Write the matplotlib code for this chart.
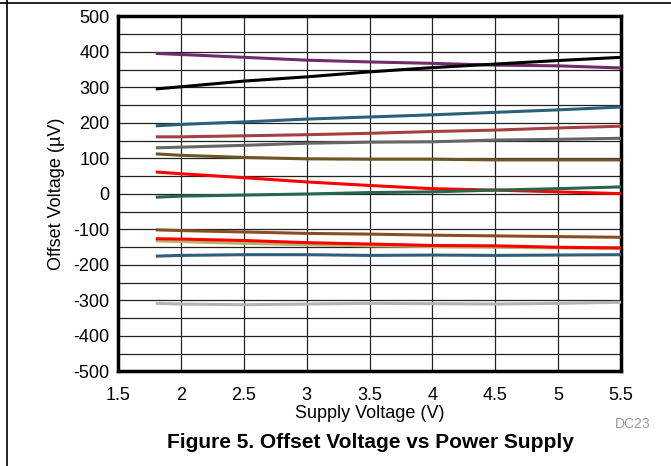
import matplotlib
matplotlib.use("Agg")
import matplotlib.pyplot as plt
from matplotlib.lines import Line2D

plt.rcParams['font.family'] = ['Liberation Sans', 'DejaVu Sans']
plt.rcParams['axes.unicode_minus'] = False

supply_v = [1.8, 2.0, 2.5, 3.0, 3.5, 4.0, 4.5, 5.0, 5.5]

purple = [396, 393, 385, 377, 372, 368, 363, 361, 355]
black = [296, 302, 318, 330, 344, 356, 366, 376, 385]
teal_hi = [192, 196, 203, 211, 217, 223, 230, 237, 245]
brick = [161, 161, 164, 167, 171, 176, 180, 186, 191]
gray = [130, 132, 137, 143, 146, 147, 152, 154, 157]
olive_brown = [113, 109, 103, 99, 98, 98, 96, 96, 96]
red_hi = [62, 57, 46, 34, 24, 15, 11, 6, 1]
green = [-9, -6, -3, 0, 4, 6, 11, 15, 20]
brown_lo = [-101, -103, -107, -111, -113, -116, -118, -120, -122]
khaki = [-132, -134, -139, -143, -146, -148, -150, -152, -153]
red_lo = [-126, -127, -131, -137, -141, -145, -146, -150, -152]
teal_lo = [-175, -173, -171, -171, -173, -172, -173, -172, -171]
light_gray = [-308, -310, -312, -310, -308, -309, -310, -308, -305]

series = [
    (purple, '#6E2C6C'),
    (black, '#000000'),
    (teal_hi, '#2B5F7A'),
    (brick, '#A53F40'),
    (gray, '#666666'),
    (olive_brown, '#6E5426'),
    (red_hi, '#FF0000'),
    (green, '#26664A'),
    (brown_lo, '#8B4C24'),
    (khaki, '#B8B26A'),
    (red_lo, '#FF0000'),
    (teal_lo, '#2F5F7C'),
    (light_gray, '#B3B3B3'),
]

x_ticks = [1.5, 2, 2.5, 3, 3.5, 4, 4.5, 5, 5.5]
x_tick_labels = ['1.5', '2', '2.5', '3', '3.5', '4', '4.5', '5', '5.5']
y_ticks = list(range(-500, 501, 100))

fig = plt.figure(figsize=(6.71, 4.66), dpi=100)
ax = fig.add_axes([0.1759, 0.2028, 0.7496, 0.7618])

for vals, col in series:
    ax.plot(supply_v, vals, color=col, lw=2.2, solid_capstyle='butt', zorder=3)

ax.set_xlim(1.5, 5.5)
ax.set_ylim(-500, 500)
ax.set_xticks(x_ticks)
ax.set_xticklabels(x_tick_labels)
ax.set_yticks(y_ticks)
ax.set_yticks(list(range(-450, 500, 100)), minor=True)
ax.tick_params(axis='both', which='both', length=0, labelsize=13)
ax.tick_params(axis='x', pad=11)
ax.tick_params(axis='y', pad=6)
ax.grid(True, which='major', color='#222222', lw=0.9, zorder=1)
ax.grid(True, which='minor', axis='y', color='#222222', lw=0.9, zorder=1)
for s in ax.spines.values():
    s.set_linewidth(2.5)
    s.set_color('black')

ax.set_xlabel('Supply Voltage (V)', fontsize=13, labelpad=1)
ax.set_ylabel('Offset Voltage (µV)', fontsize=13, labelpad=6)

fig.text(650 / 671, 1 - 424 / 466, 'DC23', fontsize=10, color='#999999', ha='right', va='center')
fig.text(370 / 671, 1 - 443 / 466, 'Figure 5. Offset Voltage vs Power Supply', fontsize=15,
         fontweight='bold', ha='center', va='center')

fig.add_artist(Line2D([0, 1], [1 - 3 / 466, 1 - 3 / 466], color='black', lw=1.2,
                      transform=fig.transFigure))
fig.add_artist(Line2D([7 / 671, 7 / 671], [0, 1], color='black', lw=1.2,
                      transform=fig.transFigure))

fig.savefig('out.png', dpi=100)
